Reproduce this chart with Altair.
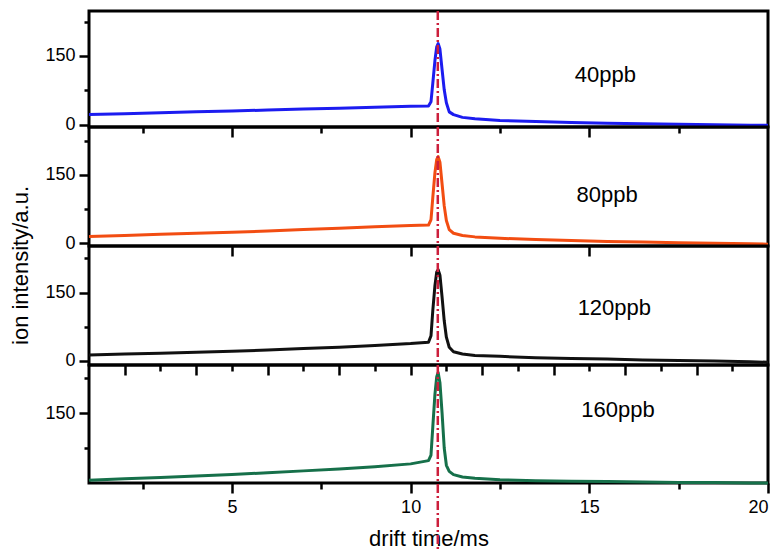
import altair as alt
import pandas as pd

# drift time (ms) sample points
drift = [1, 2, 3, 4, 5, 6, 7, 8, 9, 10, 10.5, 10.57, 10.62, 10.68, 10.73, 10.77,
         10.82, 10.88, 10.94, 11.0, 11.08, 11.2, 11.45, 11.8, 12.5, 13.5, 14.5,
         15.5, 16.5, 17.5, 18.5, 19.5, 20]

ion_40 = [22, 24, 26, 28, 30, 32, 34, 36, 38, 40, 41, 50, 90, 140, 170, 177,
          165, 120, 76, 48, 28, 22, 16, 13, 9, 7, 5, 3, 2, 1, 0, -1, -1]
ion_80 = [15, 17, 19.5, 22, 24, 27, 30, 33, 36, 39, 40, 52, 100, 155, 184, 190,
          178, 130, 82, 50, 30, 22, 17, 14, 11, 8, 6, 4, 3, 1, 0, -1, -2]
ion_120 = [13, 15, 17, 19, 21, 24, 27, 30, 34, 38, 41, 55, 110, 165, 195, 200,
           188, 140, 88, 52, 30, 20, 15, 12, 10, 7, 5, 4, 2, 1, 0, -2, -3]
ion_160 = [6, 9, 12, 15, 18, 22, 26, 30, 35, 41, 48, 60, 120, 190, 228, 237,
           215, 150, 75, 38, 25, 18, 13, 10, 7, 5, 4, 3, 2, 1, 1, 0, 0]

series = [ion_40, ion_80, ion_120, ion_160]
names = ["40ppb", "80ppb", "120ppb", "160ppb"]
label_x = [15.45, 15.5, 15.7, 15.8]
label_y = [109, 105, 116, 156]
peak_ref = [10.76]

colors = ["#1c1cf0", "#f24d12", "#111111", "#16704a"]
y_domains = [[-5, 248], [-6, 255], [-9, 252], [0, 253]]
y_ticks = [[0, 75, 150, 225], [0, 75, 150, 225], [0, 75, 150, 225], [75, 150, 225]]
x_ticks = [
    [2.5, 5, 7.5, 10, 12.5, 15, 17.5],
    [5, 10, 15],
    [2, 3, 4, 5, 6, 7, 8, 9, 10, 11, 12, 13, 14, 15, 16, 17, 18, 19],
    [2.5, 5, 7.5, 10, 12.5, 15, 17.5, 20],
]
x_major_test = ["datum.value % 5 === 0", "datum.value % 5 === 0",
                "datum.value % 2 === 0", "datum.value % 5 === 0"]
heights = [116, 119, 119, 118]
W = 679
FONT = "Liberation Sans"


def make_panel(k):
    h = heights[k]
    last = k == 3
    df = pd.DataFrame({"t": drift, "v": series[k]})
    xscale = alt.Scale(domain=[1, 20], nice=False, zero=False)
    yscale = alt.Scale(domain=y_domains[k], nice=False, zero=False)
    xaxis = alt.Axis(
        values=x_ticks[k],
        labels=last,
        labelExpr="datum.value % 5 === 0 ? datum.label : ''",
        labelOverlap=False,
        labelFontSize=18,
        labelFont=FONT,
        labelColor="black",
        labelPadding=5,
        tickSize={"condition": {"test": x_major_test[k], "value": 10}, "value": 6},
        tickWidth=2.5,
        tickColor="black",
        domain=False,
        grid=False,
        title="drift time/ms" if last else "",
        titleFontSize=22,
        titleFont=FONT,
        titleFontWeight="normal",
        titleColor="black",
        titlePadding=12,
    )
    yaxis = alt.Axis(
        values=y_ticks[k],
        labelExpr="datum.value % 150 === 0 ? datum.label : ''",
        labelOverlap=False,
        labelFontSize=18,
        labelFont=FONT,
        labelColor="black",
        labelPadding=4,
        tickSize={"condition": {"test": "datum.value % 150 === 0", "value": 10}, "value": 5},
        tickWidth=2.5,
        tickColor="black",
        domain=False,
        grid=False,
        title="ion intensity/a.u." if k == 1 else "",
        titleY=138,
        titleFontSize=22,
        titleFont=FONT,
        titleFontWeight="normal",
        titleColor="black",
        titlePadding=12,
    )
    line = alt.Chart(df).mark_line(color=colors[k], strokeWidth=3, strokeJoin="round").encode(
        x=alt.X("t:Q", scale=xscale, axis=xaxis),
        y=alt.Y("v:Q", scale=yscale, axis=yaxis),
    )
    rule = alt.Chart(pd.DataFrame({"t": peak_ref})).mark_rule(
        color="#cc1f3c", strokeWidth=2.5, strokeDash=[9, 3, 2, 3]
    ).encode(
        x=alt.X("t:Q", scale=xscale, axis=xaxis),
        y=alt.value(0),
        y2=alt.value(h + 66 if last else h),
    )
    lab = alt.Chart(pd.DataFrame({"t": [label_x[k]], "v": [label_y[k]], "name": [names[k]]})).mark_text(
        font=FONT, fontSize=22, color="black"
    ).encode(
        x=alt.X("t:Q", scale=xscale, axis=xaxis),
        y=alt.Y("v:Q", scale=yscale, axis=yaxis),
        text="name:N",
    )
    return alt.layer(line, rule, lab).properties(width=W, height=h)


chart = alt.vconcat(*[make_panel(k) for k in range(4)], spacing=0, bounds="flush").resolve_scale(
    x="independent", y="independent"
).properties(
    padding={"left": 0, "top": 0, "right": 0, "bottom": 0}
).configure_view(stroke="black", strokeWidth=3)

chart.save("out.html", embed_options={"renderer": "svg", "actions": False})
